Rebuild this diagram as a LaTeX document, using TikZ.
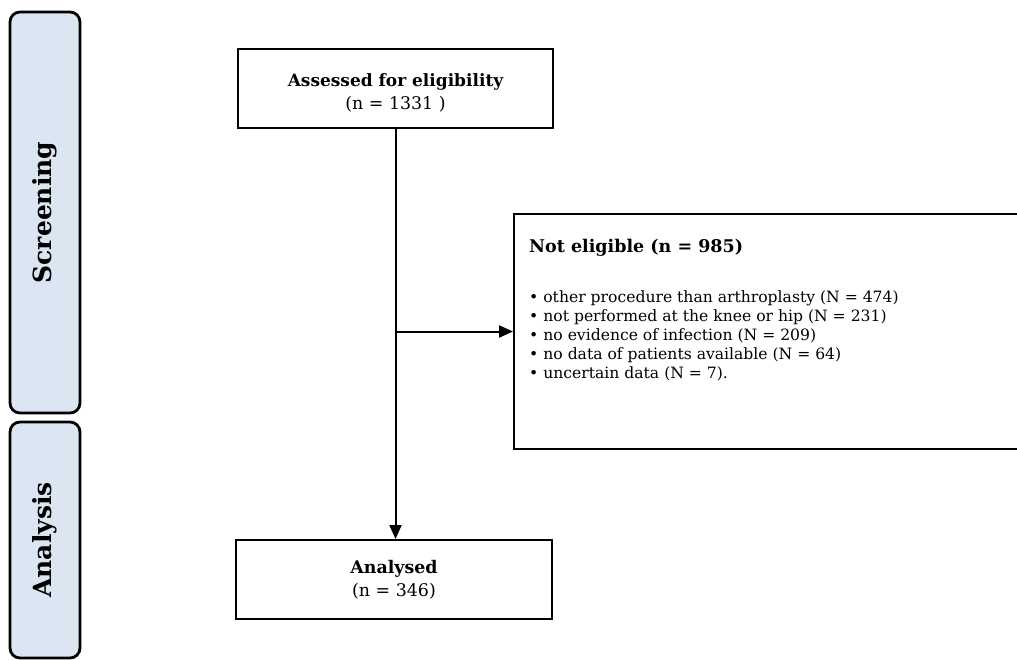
\documentclass[tikz,border=0pt]{standalone}
\usepackage{fontspec}
\setmainfont{DejaVu Serif}
\usetikzlibrary{positioning,arrows.meta}
\definecolor{barblue}{HTML}{DCE6F2}

\tikzset{
  phasebar/.style={draw, line width=2.8pt, rounded corners=10pt, fill=barblue,
    rotate=90, minimum height=70pt, inner sep=0pt,
    font=\fontsize{25}{29}\selectfont\bfseries},
  flowbox/.style={draw, line width=2pt, align=center, inner sep=0pt,
    font=\fontsize{17.4}{23}\selectfont},
  flowarrow/.style={line width=2pt, -{Triangle[length=14pt,width=12pt]}}
}

\begin{document}
\begin{tikzpicture}[x=1pt, y=-1pt]
\useasboundingbox (0,0) rectangle (1017,659);
\clip (0,0) rectangle (1017,659);

%PHASEN (links)
\node [phasebar, minimum width=401pt] (screening) at (45,212.5) {Screening};
\node [phasebar, minimum width=236pt] (analysis) at (45,540) {Analysis};

%KASTEN OBEN
\node [flowbox, minimum width=315pt, minimum height=79pt] (assessed) at (395.5,88.5)
  {\rule{0pt}{21pt}{\fontsize{17}{23}\selectfont\bfseries Assessed for eligibility}\\(n = 1331 )};

%KASTEN RECHTS
\node [flowbox, minimum width=506pt, minimum height=235pt] (noteligible) at (767,331.5) {};
\node [anchor=north west, align=left, inner sep=0pt, font=\fontsize{15.6}{19}\selectfont]
  (reasons) at ([xshift=16pt, yshift=-26pt]noteligible.north west)
  {{\fontsize{17.5}{22}\selectfont\bfseries Not eligible (n = 985)}\\[31pt]
   • other procedure than arthroplasty (N = 474)\\
   • not performed at the knee or hip (N = 231)\\
   • no evidence of infection (N = 209)\\
   • no data of patients available (N = 64)\\
   • uncertain data (N = 7).};

%KASTEN UNTEN
\node [flowbox, minimum width=316pt, minimum height=79pt] (analysed) at (394,579.5)
  {\textbf{Analysed}\\(n = 346)};

%PFEILE
\coordinate (split) at (assessed.south |- noteligible.west);
\draw [flowarrow] (assessed.south) -- (assessed.south |- analysed.north);
\draw [flowarrow] (split) -- (noteligible.west);

\end{tikzpicture}
\end{document}
